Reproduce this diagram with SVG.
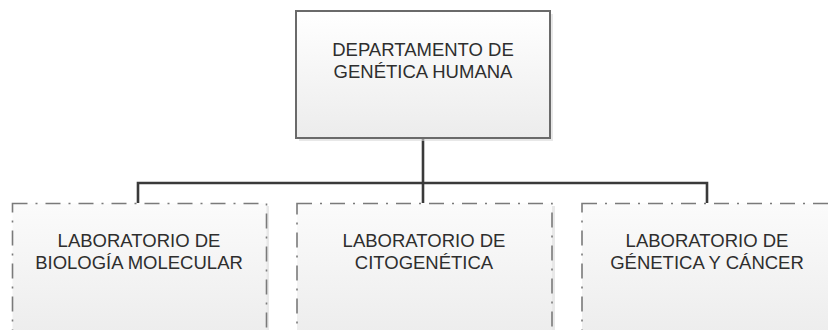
<svg xmlns="http://www.w3.org/2000/svg" width="828" height="330" viewBox="0 0 828 330">
  <defs>
    <linearGradient id="fillTop" x1="0" y1="0" x2="0" y2="1">
      <stop offset="0" stop-color="#ffffff"/>
      <stop offset="1" stop-color="#ececec"/>
    </linearGradient>
    <linearGradient id="fillLab" x1="0" y1="0" x2="0" y2="1">
      <stop offset="0" stop-color="#fbfbfb"/>
      <stop offset="1" stop-color="#ededed"/>
    </linearGradient>
  </defs>
  <style>
    .shadow { fill: #d8d8d8; opacity: 0.6; }
    .head { fill: url(#fillTop); stroke: #6a6a6a; stroke-width: 2; }
    .lab { fill: url(#fillLab); stroke: #7a7a7a; stroke-width: 1.6; stroke-dasharray: 15 8 2 8; }
    .label { font-family: "Liberation Sans", Arial, sans-serif; font-size: 18.5px; fill: #2e2e2e; text-anchor: middle; }
    .conn { fill: none; stroke: #3a3a3a; stroke-width: 2.6; }
  </style>
  <rect width="828" height="330" fill="#ffffff"/>

  <g id="connectors">
    <path class="conn" d="M423 138 V203"/>
    <path class="conn" d="M138 203 V183 H707 V203"/>
  </g>

  <g id="dept">
    <rect class="shadow" x="299" y="14" width="254" height="127"/>
    <rect class="head" x="296" y="11" width="254" height="127"/>
    <text class="label" x="423" y="56">DEPARTAMENTO DE</text>
    <text class="label" x="423" y="78">GENÉTICA HUMANA</text>
  </g>

  <g id="lab-biologia">
    <rect class="shadow" x="15" y="206" width="254" height="130"/>
    <rect class="lab" x="12.5" y="203.5" width="254" height="130"/>
    <text class="label" x="139" y="247">LABORATORIO DE</text>
    <text class="label" x="139" y="269">BIOLOGÍA MOLECULAR</text>
  </g>

  <g id="lab-citogenetica">
    <rect class="shadow" x="300" y="206" width="255" height="130"/>
    <rect class="lab" x="297" y="203.5" width="255" height="130"/>
    <text class="label" x="424" y="247">LABORATORIO DE</text>
    <text class="label" x="424" y="269">CITOGENÉTICA</text>
  </g>

  <g id="lab-cancer">
    <rect class="shadow" x="585" y="206" width="254" height="130"/>
    <rect class="lab" x="582" y="203.5" width="254" height="130"/>
    <text class="label" x="707" y="247">LABORATORIO DE</text>
    <text class="label" x="707" y="269">GÉNETICA Y CÁNCER</text>
  </g>
</svg>
